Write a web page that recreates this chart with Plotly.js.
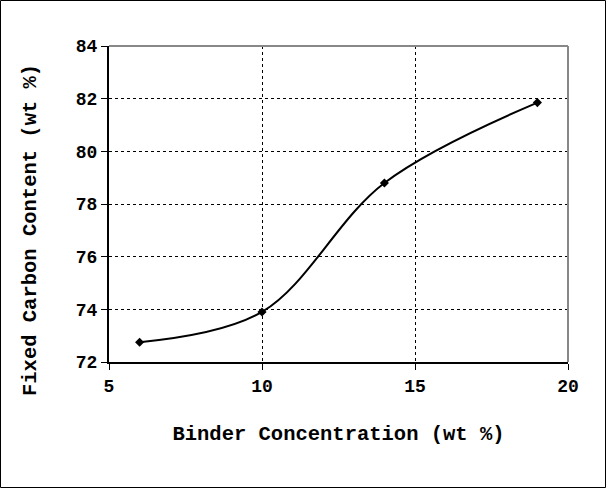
<!DOCTYPE html>
<html>
<head>
<script src="https://cdn.plot.ly/plotly-3.0.1.min.js"></script>
<style>body{margin:0;background:#fff}</style>
</head>
<body>
<div id="chart" style="width:606px;height:488px"></div>
<script>
var binder = [6, 10, 14, 19];
var fixedCarbon = [72.75, 73.9, 78.8, 81.85];

var monoFont = {family: 'Liberation Mono, Courier New, monospace', color: '#000'};

var trace = {
    x: binder,
    y: fixedCarbon,
    mode: 'lines+markers',
    line: {shape: 'spline', smoothing: 1, color: '#000', width: 2},
    marker: {symbol: 'diamond', size: 7, color: '#000'},
    hoverinfo: 'none'
};

var plotW = 606 - 109 - 38;
var plotH = 488 - 46 - 126;

var layout = {
    width: 606,
    height: 488,
    margin: {l: 109, r: 38, t: 46, b: 126},
    paper_bgcolor: '#fff',
    plot_bgcolor: '#fff',
    showlegend: false,
    font: monoFont,
    xaxis: {
        range: [5, 20],
        dtick: 5,
        ticks: 'outside',
        ticklen: 6,
        tickcolor: '#000',
        tickfont: {family: monoFont.family, size: 18, color: '#000', weight: 'bold'},
        showline: true,
        linecolor: '#000',
        linewidth: 2,
        showgrid: true,
        gridcolor: '#000',
        griddash: 'dot',
        gridwidth: 1,
        zeroline: false,
        title: {text: '<b>Binder Concentration (wt %)</b>', font: {size: 20.5}, standoff: 30}
    },
    yaxis: {
        range: [72, 84],
        dtick: 2,
        ticks: 'outside',
        ticklen: 6,
        tickcolor: '#000',
        tickfont: {family: monoFont.family, size: 18, color: '#000', weight: 'bold'},
        showline: true,
        linecolor: '#000',
        linewidth: 2,
        showgrid: true,
        gridcolor: '#000',
        griddash: 'dot',
        gridwidth: 1,
        zeroline: false
    },
    annotations: [{
        text: '<b>Fixed Carbon Content (wt %)</b>',
        xref: 'paper', yref: 'paper',
        x: -79 / plotW, y: (362 - 230) / plotH,
        xanchor: 'center', yanchor: 'middle',
        textangle: -90,
        showarrow: false,
        font: {size: 20.5}
    }],
    shapes: [
        // grey top and right border of plot area
        {type: 'line', xref: 'paper', yref: 'paper', x0: 0, x1: 1, y0: 1, y1: 1,
         line: {color: '#888', width: 2}},
        {type: 'line', xref: 'paper', yref: 'paper', x0: 1, x1: 1, y0: 0, y1: 1,
         line: {color: '#888', width: 2}},
        // outer frame
        {type: 'rect', xref: 'paper', yref: 'paper',
         x0: -108.5 / plotW, x1: (606 - 109 - 0.5) / plotW,
         y0: -(126 - 0.5) / plotH, y1: (plotH + 46 - 0.5) / plotH,
         line: {color: '#000', width: 1}}
    ]
};

Plotly.newPlot('chart', [trace], layout, {displayModeBar: false, staticPlot: true});
</script>
</body>
</html>
